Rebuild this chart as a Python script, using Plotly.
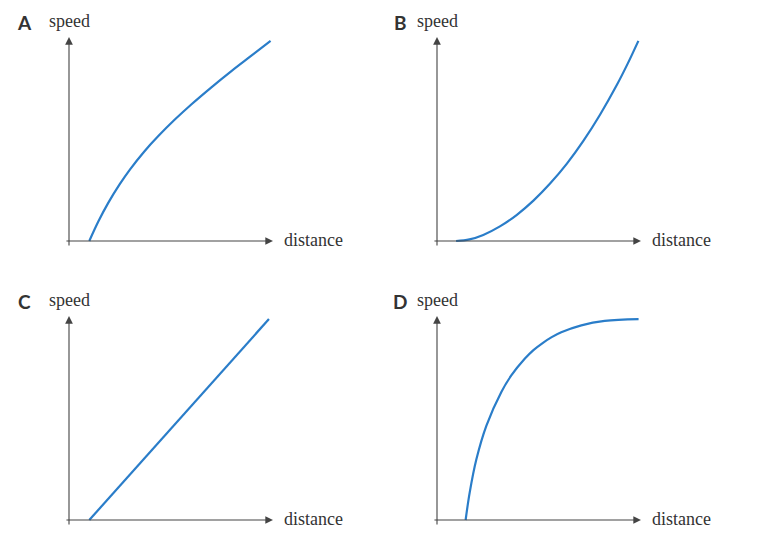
import plotly.graph_objects as go

W, H = 768, 551
SCALE = 20.3  # px per data unit
OFF = 8       # page body margin of the html page

panel_labels = ["A", "B", "C", "D"]
x_title = "distance"
y_title = "speed"

dist_a = [1.00, 1.45, 1.94, 2.50, 3.00, 3.70, 4.40, 5.20, 6.05, 7.00, 8.00, 9.00, 9.93]
speed_a = [0.0, 0.97, 1.89, 2.80, 3.52, 4.40, 5.17, 5.97, 6.75, 7.56, 8.37, 9.14, 9.86]

dist_b = [0.94, 1.60, 2.28, 3.10, 3.92, 4.75, 5.57, 6.39, 7.21, 8.03, 8.85, 9.40, 9.92]
speed_b = [0.0, 0.08, 0.30, 0.72, 1.28, 1.99, 2.83, 3.80, 4.93, 6.22, 7.67, 8.75, 9.86]

dist_c = [1.0, 9.85]
speed_c = [0.0, 9.9]

dist_d = [1.41, 1.61, 1.94, 2.43, 3.17, 3.66, 4.32, 4.75, 5.22, 5.65, 6.12, 7.11, 8.26, 9.93]
speed_d = [0.0, 1.35, 2.99, 4.64, 6.31, 7.12, 7.94, 8.37, 8.73, 9.01, 9.25, 9.59, 9.81, 9.90]

series = [(dist_a, speed_a), (dist_b, speed_b), (dist_c, speed_c), (dist_d, speed_d)]

# pixel position of each panel's origin in the screenshot
origins = [(69, 241), (437, 241), (69, 520), (437, 520)]
x_rng = [-0.3, 10.3]
y_rng = [-0.4, 10.3]

CURVE = "#2a7dc9"
AXIS = "#444444"
TEXT = "#333333"


def px(x):
    return (x - OFF) / W


def py(y):
    return (H - (y - OFF)) / H


fig = go.Figure()
annotations = []
layout = {}

for i, (lab, (xs, ys), (ox, oy)) in enumerate(zip(panel_labels, series, origins)):
    n = "" if i == 0 else str(i + 1)
    xr, yr = "x" + n, "y" + n
    fig.add_trace(go.Scatter(
        x=xs, y=ys, mode="lines", xaxis=xr, yaxis=yr,
        line=dict(color=CURVE, width=2.2, shape="spline", smoothing=1.0, simplify=False),
        showlegend=False, hoverinfo="skip"))

    x0 = ox + x_rng[0] * SCALE
    x1 = ox + x_rng[1] * SCALE
    y0 = oy - y_rng[0] * SCALE
    y1 = oy - y_rng[1] * SCALE
    layout["xaxis" + n] = dict(domain=[px(x0), px(x1)], range=x_rng, visible=False,
                               anchor=yr, fixedrange=True)
    layout["yaxis" + n] = dict(domain=[py(y0), py(y1)], range=y_rng, visible=False,
                               anchor=xr, fixedrange=True)

    # axes with arrow heads
    common = dict(xref=xr, yref=yr, axref=xr, ayref=yr, text="", showarrow=True,
                  arrowhead=2, arrowsize=1.4, arrowwidth=1.1, arrowcolor=AXIS)
    annotations.append(dict(x=10.05, y=0, ax=-0.2, ay=0, **common))
    annotations.append(dict(x=0, y=10.05, ax=0, ay=-0.3, **common))

    left = i % 2 == 0
    annotations.append(dict(
        x=px(ox - (45 if left else 37)), y=py(oy - 219), xref="paper", yref="paper",
        text=lab, showarrow=False, xanchor="center", yanchor="middle",
        font=dict(family="Lato", size=19, color=TEXT, weight="bold")))
    annotations.append(dict(
        x=px(ox), y=py(oy - 220), xref="paper", yref="paper",
        text=y_title, showarrow=False, xanchor="center", yanchor="middle",
        font=dict(family="Liberation Serif", size=18, color=TEXT)))
    annotations.append(dict(
        x=px(ox + 213), y=py(oy - 1), xref="paper", yref="paper",
        text=x_title, showarrow=False, xanchor="left", yanchor="middle",
        font=dict(family="Liberation Serif", size=18, color=TEXT)))

fig.update_layout(
    width=W, height=H,
    margin=dict(l=0, r=0, t=0, b=0),
    paper_bgcolor="white", plot_bgcolor="white",
    annotations=annotations,
    **layout
)

fig.write_html("out.html")
